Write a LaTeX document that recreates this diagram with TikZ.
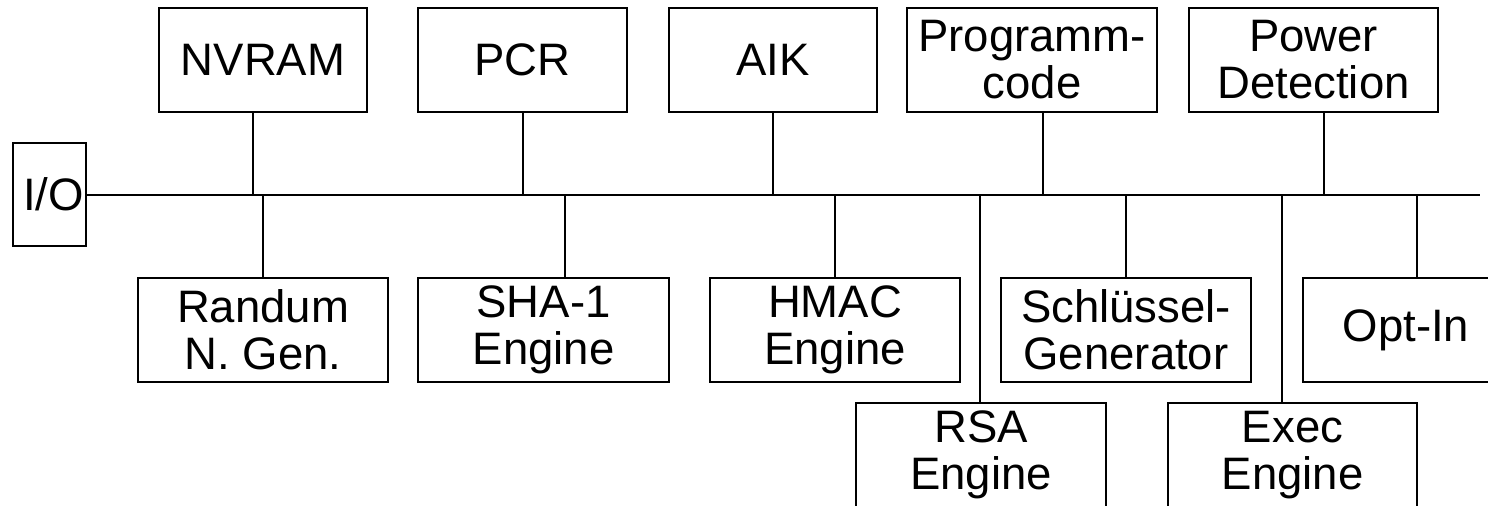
\documentclass[tikz,border=0pt]{standalone}
\usepackage{fontspec}
\setmainfont{Liberation Sans}
\begin{document}
\begin{tikzpicture}[x=0.5bp,y=-0.5bp,
  line width=0.6bp,
  box/.style={draw, inner sep=0pt, align=center, minimum height=52bp,
    font=\fontsize{22.75bp}{23.5bp}\selectfont},
  wide/.style={minimum width=125bp},
  narrow/.style={minimum width=104bp}]
\useasboundingbox (0,0) rectangle (1488,506);
% boxes
\node[box, minimum width=36.5bp, minimum height=51.5bp] (io) at (49.5,194.5) {\hspace*{4bp}I/O};
\node[box, narrow] (nvram) at (263,60) {NVRAM};
\node[box, minimum width=104.5bp] (pcr) at (522.5,60) {PCR};
\node[box, narrow] (aik) at (773,60) {AIK};
\node[box, wide] (prog) at (1032,60) {Programm-\\code};
\node[box, minimum width=124.5bp] (power) at (1313.5,60) {Power\\Detection};
\node[box, wide] (rng) at (263,330) {Randum\\N. Gen.};
\node[box, minimum width=125.5bp] (sha) at (543.5,330) {SHA-1\\Engine};
\node[box, wide] (hmac) at (835,330) {HMAC\\Engine};
\node[box, wide] (key) at (1126,330) {Schlüssel-\\Generator};
\node[box, minimum width=103bp] (optin) at (1406,330) {Opt-In};
\node[box, wide] (rsa) at (981,455) {RSA\\Engine};
\node[box, minimum width=124.5bp] (exec) at (1292.5,455) {Exec\\Engine};
% bus
\coordinate (busend) at (1480,195);
\draw (io.east |- busend) -- (busend);
% taps on the bus
\coordinate (t1) at (253,195);
\coordinate (t2) at (523,195);
\coordinate (t3) at (773,195);
\coordinate (t4) at (1043,195);
\coordinate (t5) at (1324,195);
\coordinate (b1) at (263,195);
\coordinate (b2) at (565,195);
\coordinate (b3) at (835,195);
\coordinate (b4) at (1126,195);
\coordinate (b5) at (1417,195);
\coordinate (c1) at (980,195);
\coordinate (c2) at (1282,195);
\draw (nvram.south -| t1) -- (t1);
\draw (pcr.south -| t2) -- (t2);
\draw (aik.south -| t3) -- (t3);
\draw (prog.south -| t4) -- (t4);
\draw (power.south -| t5) -- (t5);
\draw (b1) -- (rng.north -| b1);
\draw (b2) -- (sha.north -| b2);
\draw (b3) -- (hmac.north -| b3);
\draw (b4) -- (key.north -| b4);
\draw (b5) -- (optin.north -| b5);
\draw (c1) -- (rsa.north -| c1);
\draw (c2) -- (exec.north -| c2);
\end{tikzpicture}
\end{document}
